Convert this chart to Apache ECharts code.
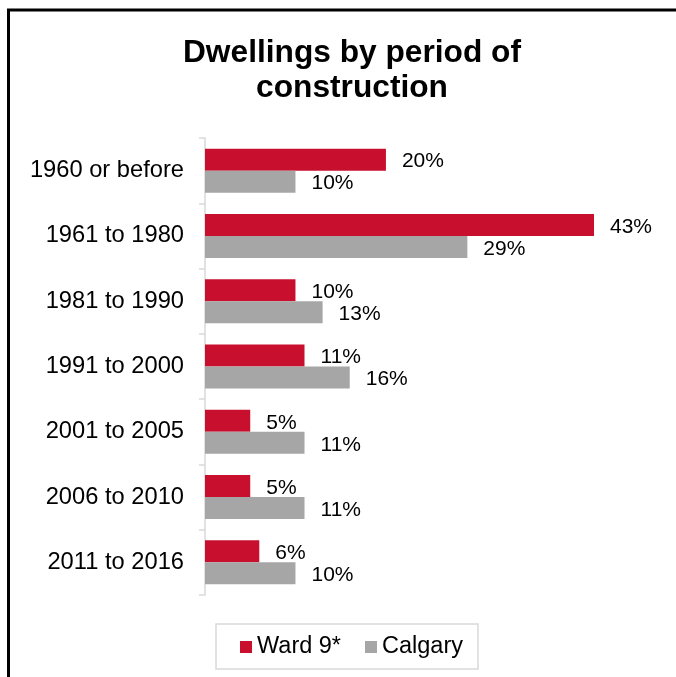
<!DOCTYPE html>
<html><head><meta charset="utf-8">
<script src="https://cdn.jsdelivr.net/npm/echarts@6/dist/echarts.min.js"></script>
<style>html,body{margin:0;padding:0;background:#fff}#c{width:676px;height:677px}</style>
</head><body><div id="c"></div>
<script>
const categories = ['1960 or before','1961 to 1980','1981 to 1990','1991 to 2000','2001 to 2005','2006 to 2010','2011 to 2016'];
const ward9 = [20,43,10,11,5,5,6];
const calgary = [10,29,13,16,11,11,10];
const seriesNames = ['Ward 9*','Calgary'];
const chart = echarts.init(document.getElementById('c'));
const lbl = {show:true, position:'right', distance:16, offset:[0,2], formatter:'{c}%', color:'#000', fontFamily:'Liberation Sans, Arial', fontSize:21};
chart.setOption({
  animation:false,
  title:{text:'Dwellings by period of\nconstruction', left:347, textAlign:'center', top:31,
    textStyle:{fontFamily:'Liberation Sans, Arial', fontWeight:'bold', fontSize:31.7, lineHeight:35, color:'#000'}},
  graphic:[
    {type:'line', shape:{x1:8.5,y1:9,x2:8.5,y2:677}, style:{stroke:'#000', lineWidth:3}},
    {type:'line', shape:{x1:7,y1:10,x2:676,y2:10}, style:{stroke:'#000', lineWidth:3}}
  ],
  legend:{data:seriesNames, left:216, top:624, padding:[11,15,10,24], itemGap:24,
    borderColor:'#d9d9d9', borderWidth:1.5, itemWidth:12, itemHeight:12, icon:'rect',
    textStyle:{fontFamily:'Liberation Sans, Arial', fontSize:23.5, color:'#000'}},
  grid:{left:205, right:82, top:138, bottom:82, containLabel:false},
  xAxis:{type:'value', min:0, max:43, show:false},
  yAxis:{type:'category', data:categories, inverse:true,
    axisLine:{lineStyle:{color:'#d9d9d9', width:1.5}},
    axisTick:{show:true, length:6, lineStyle:{color:'#d9d9d9', width:1.5}},
    axisLabel:{margin:21, color:'#000', fontFamily:'Liberation Sans, Arial', fontSize:23.7}},
  series:[
    {name:seriesNames[0], type:'bar', data:ward9, barWidth:22, barGap:'0%', itemStyle:{color:'#C8102E'}, label:lbl},
    {name:seriesNames[1], type:'bar', data:calgary, barWidth:22, barGap:'0%', itemStyle:{color:'#A6A6A6'}, label:lbl}
  ]
});
</script></body></html>
